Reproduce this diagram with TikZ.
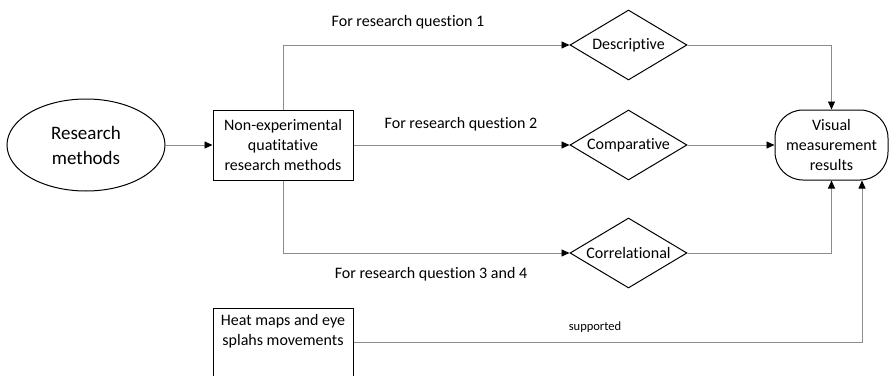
\documentclass[tikz,border=0pt]{standalone}
\usepackage{fontspec}
\setmainfont{Carlito}[Ligatures=NoCommon]
\usetikzlibrary{shapes.geometric,arrows.meta}
\definecolor{linegray}{HTML}{8C8C8C}
\tikzset{
  conn/.style={draw=linegray, line width=0.9pt, -{Triangle[length=8pt,width=7pt,color=black]}},
  shp/.style={draw=black, line width=1pt, align=center, font=\fontsize{16}{20}\selectfont},
  dia/.style={shp, diamond, aspect=1.67, inner sep=0pt, minimum width=117pt, minimum height=70pt},
  lbl/.style={font=\fontsize{16}{20}\selectfont, inner sep=0pt}
}
\begin{document}
\begin{tikzpicture}[x=1pt,y=-1pt]
\useasboundingbox (0,0) rectangle (889,375);
\node[shp, ellipse, minimum width=158pt, minimum height=92pt, inner sep=0pt, font=\fontsize{19}{25}\selectfont] (rm) at (86,145) {Research\\methods};
\node[shp, rectangle, minimum width=140pt, minimum height=70pt, inner sep=0pt] (ne) at (283,145) {Non-experimental\\quatitative\\research methods};
\node[dia] (desc) at (628.5,45) {Descriptive};
\node[dia] (comp) at (628.5,145) {Comparative};
\node[dia] (corr) at (628.5,253) {Correlational};
\node[shp, rectangle, rounded corners=28pt, minimum width=113pt, minimum height=70pt, inner sep=0pt] (vis) at (831.5,145) {Visual\\measurement\\results};
\node[shp, rectangle, minimum width=140pt, minimum height=68pt, inner sep=0pt] (heat) at (283,342) {Heat maps and eye\\splahs movements\\[4pt]};
\coordinate (visin) at ([xshift=30.5pt]vis.south);

\draw[conn] (rm.east) -- (ne.west);
\draw[conn] (ne.north) |- (desc.west);
\draw[conn] (ne.east) -- (comp.west);
\draw[conn] (ne.south) |- (corr.west);
\draw[conn] (desc.east) -| (vis.north);
\draw[conn] (comp.east) -- (vis.west);
\draw[conn] (corr.east) -| (vis.south);
\draw[conn] (heat.east) -| (visin);

\node[lbl] (l1) at (408,22) {For research question 1};
\node[lbl] (l2) at (461,124) {For research question 2};
\node[lbl] (l3) at (431,274) {For research question 3 and 4};
\node[lbl, font=\fontsize{12.5}{15}\selectfont] (l4) at (595,327) {supported};
\end{tikzpicture}
\end{document}
